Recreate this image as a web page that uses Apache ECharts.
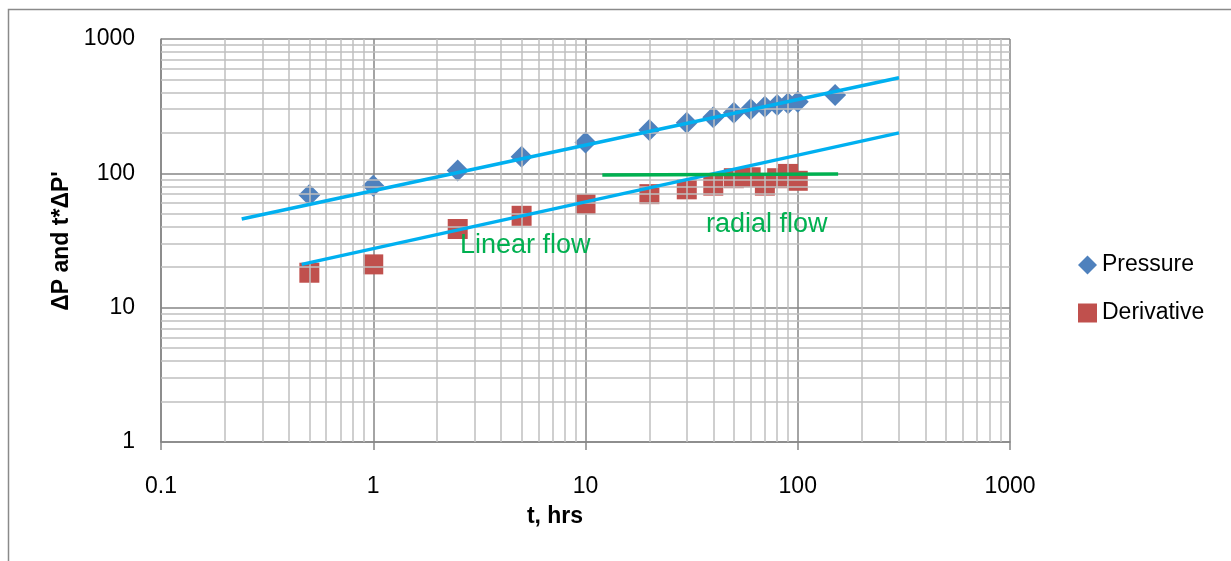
<!DOCTYPE html>
<html>
<head>
<meta charset="utf-8">
<script src="https://cdn.jsdelivr.net/npm/echarts@6/dist/echarts.min.js"></script>
<style>
html,body{margin:0;padding:0;background:#fff;}
#chart{width:1231px;height:561px;}
</style>
</head>
<body>
<div id="chart"></div>
<script>
// ---- data ----
var pressureT = [0.5, 1, 2.5, 5, 10, 20, 30, 40, 50, 60, 70, 80, 90, 100, 150];
var pressureV = [69, 81, 105, 133, 170, 210, 238, 261, 283, 300, 313, 323, 332, 341, 383];
var derivT = [0.5, 1, 2.5, 5, 10, 20, 30, 40, 50, 60, 70, 80, 90, 100];
var derivV = [18.2, 21, 38.5, 48.3, 59, 70, 76, 81, 92, 93.5, 81, 92, 99, 88];
// trend lines (end points)
var pressTrendT = [0.24, 300];
var pressTrendV = [45.7, 515];
var linearTrendT = [0.46, 300];
var linearTrendV = [21, 200];
var radialT = [12, 155];
var radialV = [97, 99];
// axis ticks
var xTicks = [0.1, 1, 10, 100, 1000];
var yTicks = [1, 10, 100, 1000];
var seriesNames = ['Pressure', 'Derivative'];
var xTitle = 't, hrs';
var yTitle = '\u0394P and t*\u0394P\'';
var notes = ['Linear flow', 'radial flow'];

function zip(a, b) { return a.map(function (v, i) { return [v, b[i]]; }); }
// minor grid positions (2..9 in each decade)
function minors(lo, hi) {
  var out = [];
  for (var d = lo; d < hi; d *= 10) {
    for (var k = 2; k <= 9; k++) out.push(+(d * k).toPrecision(6));
  }
  return out;
}
var xMinor = minors(xTicks[0], xTicks[xTicks.length - 1]);
var yMinor = minors(yTicks[0], yTicks[yTicks.length - 1]);

var FONT = '"Liberation Sans", Arial, sans-serif';
var MAJOR = '#868686';
var MINOR = '#bfbfbf';

var chart = echarts.init(document.getElementById('chart'), null, {renderer: 'canvas'});
var fmt = function (v) { return String(+Number(v).toPrecision(6)); };

chart.setOption({
  animation: false,
  backgroundColor: '#ffffff',
  grid: {left: 161, top: 39, width: 849, height: 403, containLabel: false},
  xAxis: {
    type: 'log', logBase: 10, min: xTicks[0], max: xTicks[xTicks.length - 1], splitNumber: 4,
    axisLine: {show: true, lineStyle: {color: MAJOR, width: 1.5}},
    axisTick: {show: true, inside: false, length: 8, lineStyle: {color: MAJOR, width: 1.5}},
    axisLabel: {color: '#000', fontFamily: FONT, fontSize: 23, margin: 33, formatter: fmt},
    splitLine: {show: true, lineStyle: {color: MAJOR, width: 1.5}},
    minorTick: {show: false}, minorSplitLine: {show: false}
  },
  yAxis: {
    type: 'log', logBase: 10, min: yTicks[0], max: yTicks[yTicks.length - 1], splitNumber: 3,
    axisLine: {show: true, lineStyle: {color: MAJOR, width: 1.5}},
    axisTick: {show: false},
    axisLabel: {color: '#000', fontFamily: FONT, fontSize: 23, margin: 26, formatter: fmt},
    splitLine: {show: true, lineStyle: {color: MAJOR, width: 1.5}}
  },
  legend: {
    orient: 'vertical', left: 1078, top: 253, padding: 0, itemWidth: 19, itemHeight: 19, itemGap: 24,
    textStyle: {color: '#000', fontFamily: FONT, fontSize: 23, lineHeight: 24},
    data: [{name: seriesNames[0], icon: 'diamond'}, {name: seriesNames[1], icon: 'rect'}]
  },
  graphic: [
    {type: 'rect', silent: true, z: -10, shape: {x: 8.5, y: 9.5, width: 1400, height: 700},
     style: {fill: null, stroke: '#8a8a8a', lineWidth: 1.5}},
    {type: 'text', silent: true, x: 62, y: 241, rotation: Math.PI / 2,
     style: {text: yTitle, fill: '#000', font: 'bold 23px ' + FONT, textAlign: 'center', textVerticalAlign: 'middle'}},
    {type: 'text', silent: true, x: 555, y: 517,
     style: {text: xTitle, fill: '#000', font: 'bold 23px ' + FONT, textAlign: 'center', textVerticalAlign: 'middle'}},
    {type: 'text', silent: true, x: 460, y: 246, z: 20,
     style: {text: notes[0], fill: '#00B050', font: '27px ' + FONT, textAlign: 'left', textVerticalAlign: 'middle'}},
    {type: 'text', silent: true, x: 706, y: 225, z: 20,
     style: {text: notes[1], fill: '#00B050', font: '27px ' + FONT, textAlign: 'left', textVerticalAlign: 'middle'}}
  ],
  series: [
    {
      name: 'minor-grid', type: 'scatter', data: [], z: 1, silent: true,
      markLine: {
        silent: true, symbol: ['none', 'none'], label: {show: false}, animation: false,
        lineStyle: {color: MINOR, width: 1.5, type: 'solid'},
        emphasis: {disabled: true},
        data: xMinor.map(function (v) { return {xAxis: v}; })
          .concat(yMinor.map(function (v) { return {yAxis: v}; }))
      }
    },
    {
      name: seriesNames[0], type: 'scatter', z: 3, symbol: 'diamond', symbolSize: 22,
      itemStyle: {color: '#4F81BD', opacity: 1}, data: zip(pressureT, pressureV)
    },
    {
      name: seriesNames[1], type: 'scatter', z: 3, symbol: 'rect', symbolSize: 20,
      itemStyle: {color: '#C0504D', opacity: 1}, data: zip(derivT, derivV)
    },
    {
      name: 'pressTrend', type: 'line', z: 5, symbol: 'none', silent: true,
      lineStyle: {color: '#00B0F0', width: 3.5}, data: zip(pressTrendT, pressTrendV)
    },
    {
      name: 'linearTrend', type: 'line', z: 5, symbol: 'none', silent: true,
      lineStyle: {color: '#00B0F0', width: 3.5}, data: zip(linearTrendT, linearTrendV)
    },
    {
      name: 'radial', type: 'line', z: 5, symbol: 'none', silent: true,
      lineStyle: {color: '#00B050', width: 3.5}, data: zip(radialT, radialV)
    }
  ]
});
</script>
</body>
</html>
